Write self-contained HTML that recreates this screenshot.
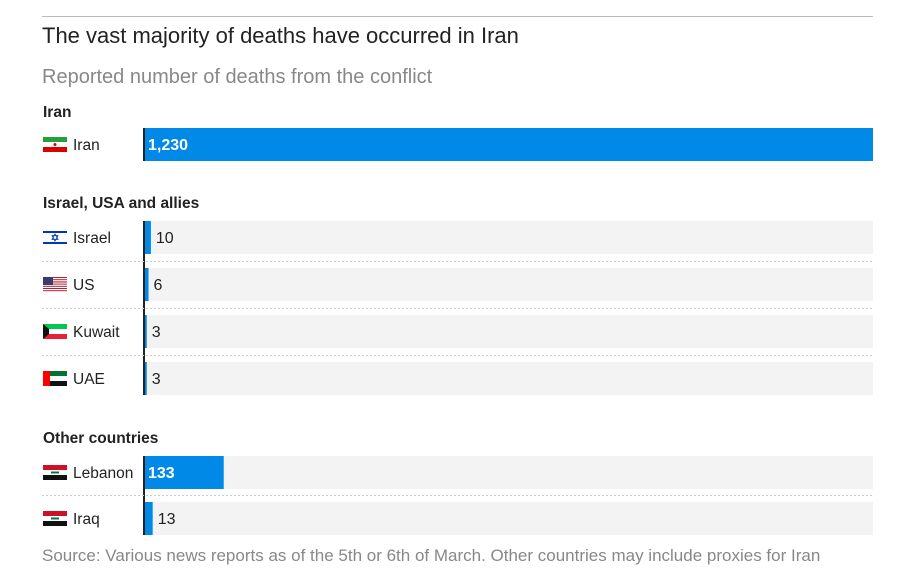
<!DOCTYPE html>
<html><head><meta charset="utf-8"><style>
body{margin:0;background:#fff;width:912px;height:582px;overflow:hidden;font-family:"Liberation Sans",sans-serif;}
.abs{position:absolute}
.n{font-family:"Liberation Sans Narrow","Liberation Sans",sans-serif;}
</style></head><body>
<div class="abs" style="left:42px;top:16px;width:831px;height:1px;background:#bbb"></div>
<div class="abs" style="left:42px;top:23px;font-size:22px;color:#222;white-space:nowrap">The vast majority of deaths have occurred in Iran</div>
<div class="abs" style="left:42px;top:66px;font-size:20px;color:#888;white-space:nowrap">Reported number of deaths from the conflict</div>
<svg class="abs" style="left:0;top:0" width="912" height="582" id="chart"></svg>
<div class="abs" style="left:42px;top:546px;font-size:17px;color:#888;white-space:nowrap">Source: Various news reports as of the 5th or 6th of March. Other countries may include proxies for Iran</div>
<script>
const groups=["Iran","Israel, USA and allies","Other countries"];
const countries=["Iran","Israel","US","Kuwait","UAE","Lebanon","Iraq"];
const groupOf=[0,1,1,1,1,2,2];
const deaths=[1230,10,6,3,3,133,13];
const flags=["iran","israel","us","kuwait","uae","iraq","iraq"];
const NS="http://www.w3.org/2000/svg";
const svg=document.getElementById('chart');
const x0=145,x1=873,maxV=1230;
const xs=v=>v/maxV*(x1-x0);
function mk(t,a,p){const e=document.createElementNS(NS,t);for(const k in a)e.setAttribute(k,a[k]);(p||svg).appendChild(e);return e;}
function flag(kind,x,y){const g=mk('g',{});
 const w=24,h=15;
 if(kind==='iran'){mk('rect',{x,y,width:w,height:5,fill:'#239f40'},g);mk('rect',{x,y:y+5,width:w,height:5,fill:'#fff'},g);mk('rect',{x,y:y+10,width:w,height:5,fill:'#da0000'},g);mk('circle',{cx:x+12,cy:y+7.5,r:1.5,fill:'#da0000'},g);}
 else if(kind==='israel'){mk('rect',{x,y,width:w,height:h,fill:'#fff'},g);mk('rect',{x,y:y+1,width:w,height:2,fill:'#0038b8'},g);mk('rect',{x,y:y+12,width:w,height:2,fill:'#0038b8'},g);mk('polygon',{points:`${x+12},${y+4} ${x+15},${y+9.5} ${x+9},${y+9.5}`,fill:'none',stroke:'#0038b8','stroke-width':0.8},g);mk('polygon',{points:`${x+12},${y+11} ${x+15},${y+5.5} ${x+9},${y+5.5}`,fill:'none',stroke:'#0038b8','stroke-width':0.8},g);}
 else if(kind==='us'){for(let i=0;i<7;i++){mk('rect',{x,y:y+i*2.2,width:w,height:1.1,fill:'#b22234'},g);mk('rect',{x,y:y+i*2.2+1.1,width:w,height:1.1,fill:'#fff'},g);}mk('rect',{x,y,width:10,height:8,fill:'#3c3b6e'},g);}
 else if(kind==='kuwait'){mk('rect',{x,y,width:w,height:5,fill:'#00c853'},g);mk('rect',{x,y:y+5,width:w,height:5,fill:'#fff'},g);mk('rect',{x,y:y+10,width:w,height:5,fill:'#e8203a'},g);mk('polygon',{points:`${x},${y} ${x+6},${y+5} ${x+6},${y+10} ${x},${y+15}`,fill:'#111'},g);}
 else if(kind==='uae'){mk('rect',{x,y,width:w,height:5,fill:'#00732f'},g);mk('rect',{x,y:y+5,width:w,height:5,fill:'#fff'},g);mk('rect',{x,y:y+10,width:w,height:5,fill:'#111'},g);mk('rect',{x,y,width:7,height:h,fill:'#ff0000'},g);}
 else {mk('rect',{x,y,width:w,height:5,fill:'#ce1126'},g);mk('rect',{x,y:y+5,width:w,height:5,fill:'#fff'},g);mk('rect',{x,y:y+10,width:w,height:5,fill:'#111'},g);mk('rect',{x:x+8,y:y+6.5,width:8,height:2,fill:'#007a3d'},g);}
}
const headerY=[117,208,443];
const rowTop=[128,221,268,315,362,456,502];
groups.forEach((gname,gi)=>{
 const t=mk('text',{x:43,y:headerY[gi],'font-size':15.5,'font-weight':'bold',fill:'#222',class:'n'});t.textContent=gname;
 
 
 const idx=countries.map((c,i)=>i).filter(i=>groupOf[i]===gi);
 const top=rowTop[idx[0]],bot=rowTop[idx[idx.length-1]]+33;
 const ax=mk('rect',{x:143,y:top,width:2,height:bot-top,fill:'#222'});
 
 
 idx.slice(1).forEach(i=>{const l=mk('line',{x1:42,x2:873,y1:rowTop[i]-6.5,y2:rowTop[i]-6.5,stroke:'#ccc','stroke-dasharray':'2,2'});
  
  });
});
countries.forEach((c,i)=>{
 const y=rowTop[i];
 if(i>0){const bg=mk('rect',{x:x0,y,width:x1-x0,height:33,fill:'#f3f3f3'});
  
  }
 const w=Math.max(xs(deaths[i]),1.5);
 const b=mk('rect',{x:x0,y,width:w,height:33,fill:'#0089e6'});
 
 
 flag(flags[i],43,y+9);
 const lab=mk('text',{x:73,y:y+22,'font-size':15.5,fill:'#222',class:'n'});lab.textContent=c;
 
 
 const inside=w>40;
 const v=mk('text',{x:inside?x0+3:x0+w+5,y:y+22,'font-size':16,fill:inside?'#fff':'#222','font-weight':inside?'bold':'normal',class:'n'});
 v.textContent=deaths[i].toLocaleString('en-US');
 
 
});
</script>
</body></html>
